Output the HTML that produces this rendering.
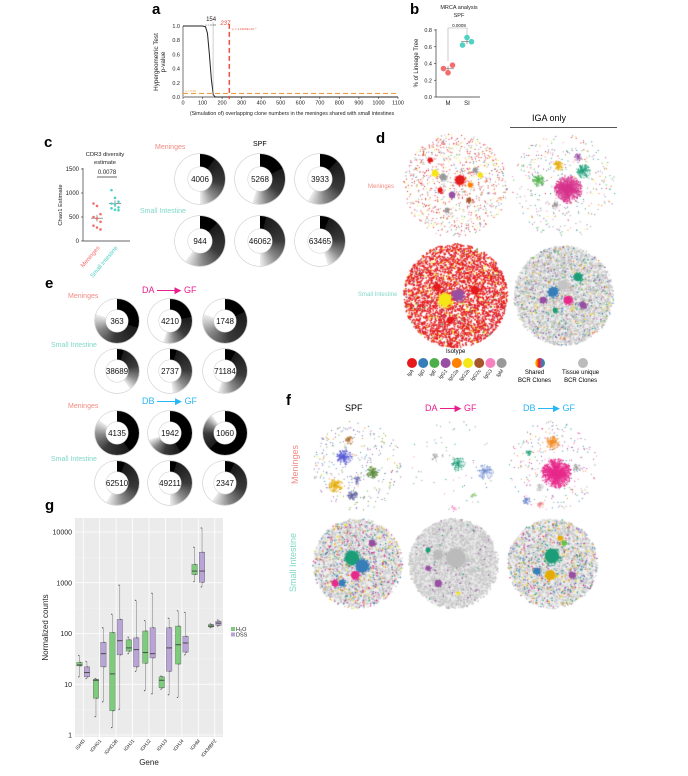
<!DOCTYPE html>
<html><head><meta charset="utf-8">
<style>
body{margin:0;background:#fff;}
#root{position:relative;width:688px;height:776px;overflow:hidden;font-family:"Liberation Sans",sans-serif;}
.t{position:absolute;white-space:nowrap;line-height:1;}
.pl{font-weight:bold;font-size:15px;color:#000;}
.dn{position:absolute;border-radius:50%;}
.dn .in{position:absolute;border-radius:50%;background:#fff;display:flex;align-items:center;justify-content:center;font-size:8px;color:#111;}
svg,canvas{position:absolute;left:0;top:0;}
</style></head>
<body>
<div id="root">
<canvas id="net" width="688" height="776"></canvas>
<svg id="sv" width="688" height="776"></svg>

<div class="t pl" style="left:152px;top:2px">a</div>
<div class="t pl" style="left:410px;top:2px">b</div>
<div class="t pl" style="left:44px;top:135px">c</div>
<div class="t pl" style="left:376px;top:131px">d</div>
<div class="t pl" style="left:45px;top:276px">e</div>
<div class="t pl" style="left:286px;top:393px">f</div>
<div class="t pl" style="left:45px;top:498px">g</div>

<div class="t" style="left:532px;top:114px;font-size:9px">IGA only</div>
<div style="position:absolute;left:510px;top:127px;width:107px;height:1px;background:#555"></div>

<div class="t" style="left:155px;top:144px;font-size:7px;color:#f28b82">Meninges</div>
<div class="t" style="left:253px;top:141px;font-size:7px">SPF</div>
<div class="t" style="left:140px;top:208px;font-size:7px;color:#7fd8c8">Small Intestine</div>

<div class="t" style="left:368px;top:184px;font-size:6px;color:#f28b82">Meninges</div>
<div class="t" style="left:358px;top:292px;font-size:6px;color:#7fd8c8">Small Intestine</div>

<div class="t" style="left:142px;top:286px;font-size:9px;color:#e91e8c">DA <span style="display:inline-block;width:18px;height:1px;background:#e91e8c;vertical-align:middle"></span>&#9654; GF</div>
<div class="t" style="left:68px;top:293px;font-size:7px;color:#f28b82">Meninges</div>
<div class="t" style="left:51px;top:342px;font-size:7px;color:#7fd8c8">Small Intestine</div>
<div class="t" style="left:142px;top:397px;font-size:9px;color:#29b6f6">DB <span style="display:inline-block;width:18px;height:1px;background:#29b6f6;vertical-align:middle"></span>&#9654; GF</div>
<div class="t" style="left:68px;top:403px;font-size:7px;color:#f28b82">Meninges</div>
<div class="t" style="left:51px;top:456px;font-size:7px;color:#7fd8c8">Small Intestine</div>

<div class="t" style="left:345px;top:404px;font-size:9px">SPF</div>
<div class="t" style="left:425px;top:404px;font-size:9px;color:#e91e8c">DA <span style="display:inline-block;width:15px;height:1px;background:#e91e8c;vertical-align:middle"></span>&#9654; GF</div>
<div class="t" style="left:523px;top:404px;font-size:9px;color:#29b6f6">DB <span style="display:inline-block;width:15px;height:1px;background:#29b6f6;vertical-align:middle"></span>&#9654; GF</div>
<div class="t" style="left:276px;top:460px;font-size:9px;color:#f28b82;transform:rotate(-90deg)">Meninges</div>
<div class="t" style="left:264px;top:558px;font-size:9px;color:#7fd8c8;transform:rotate(-90deg)">Small Intestine</div>

<div class="t" style="left:446px;top:349px;font-size:6px">Isotype</div>
<div class="t" style="left:518px;top:370px;font-size:6px;text-align:center;line-height:1.3">Shared<br>BCR Clones</div>
<div class="t" style="left:562px;top:370px;font-size:6px;text-align:center;line-height:1.3">Tissue unique<br>BCR Clones</div>
</div>

<script>
// ---------- Panel a data ----------
const aXTicks=[0,100,200,300,400,500,600,700,800,900,1000,1100];
const aYTicks=[0,0.2,0.4,0.6,0.8,1.0];
const aCurveX=[0,100,115,125,135,145,155,165,200,1100];
const aCurveY=[1,1,0.99,0.9,0.6,0.25,0.03,0,0,0];
const aThreshold=154, aSig=237, aAlpha=0.05;
// ---------- Panel b data ----------
const bGroups=["M","SI"];
const bM=[0.34,0.29,0.38];
const bSI=[0.62,0.71,0.66];
const bYTicks=[0,0.2,0.4,0.6,0.8];
// ---------- Panel c data ----------
const cGroups=["Meninges","Small Intestine"];
const cMen=[780,730,560,500,470,400,320,280,240];
const cSI=[1060,900,820,780,760,700,680,650,640];
const cYTicks=[0,500,1000,1500];
// ---------- Donuts ----------
const donutLabels=[4006,5268,3933,944,46062,63465,363,4210,1748,38689,2737,71184,4135,1942,1060,62510,49211,2347];
const donutBlack=[10,18,12,12,4,6,30,22,18,5,5,8,40,42,62,6,5,7];
const donutGray=[50,55,58,60,50,45,80,55,80,40,48,55,85,70,90,58,50,60];
// ---------- Panel g data ----------
const gGenes=["IGHD","IGHG1","IGHG2B","IGHJ1","IGHJ2","IGHJ3","IGHJ4","IGHM","IGKMBP2"];
const gH2OMed=[24,12,16,52,42,12,60,1700,140];
const gH2OQ1=[23,5.3,3,45,26,8.5,25,1450,135];
const gH2OQ3=[27,12.5,105,75,112,14,140,2300,150];
const gH2OMin=[14,2.3,1.4,40,7.5,8,5.5,1050,130];
const gH2OMax=[37,13,240,85,180,14.5,280,5000,155];
const gDSSMed=[17,40,72,48,40,52,65,1700,160];
const gDSSQ1=[14,22,38,22,33,18,43,1020,145];
const gDSSQ3=[22,67,190,82,130,130,88,4000,175];
const gDSSMin=[13,4.5,3.2,18,6.5,6.2,38,830,140];
const gDSSMax=[28,130,900,450,620,200,260,12000,185];
const gYTicks=[1,10,100,1000,10000];

const NS="http://www.w3.org/2000/svg";
const sv=document.getElementById('sv');
function el(tag,attrs,parent){const e=document.createElementNS(NS,tag);for(const k in attrs)e.setAttribute(k,attrs[k]);(parent||sv).appendChild(e);return e;}
function txt(x,y,s,size,attrs,parent){const t=el('text',Object.assign({x:x,y:y,'font-size':size,'font-family':'Liberation Sans, sans-serif',fill:'#222'},attrs||{}),parent);t.textContent=s;return t;}

// ===== Panel a =====
(function(){
 const g=el('g',{});
 
 const X=v=>183+(v/1100)*215, Y=v=>97-(v/1)*71;
 el('line',{x1:183,y1:97,x2:398,y2:97,stroke:'#333','stroke-width':0.8},g);
 el('line',{x1:183,y1:Y(1),x2:183,y2:97,stroke:'#bbb','stroke-width':2},g);
 aXTicks.forEach(v=>{el('line',{x1:X(v),y1:97,x2:X(v),y2:99,stroke:'#333','stroke-width':0.6},g);const t=txt(X(v),104.5,v,5.5,{'text-anchor':'middle'},g);});
 aYTicks.forEach(v=>{const t=txt(180,Y(v)+2,v.toFixed(1),5.5,{'text-anchor':'end'},g);});
 let d=aCurveX.map((v,i)=>(i?'L':'M')+X(v)+','+Y(aCurveY[i])).join('');
 const c=el('path',{d:d,fill:'none',stroke:'#222','stroke-width':1},g);
 const tl=el('line',{x1:X(aThreshold),y1:Y(1.05),x2:X(aThreshold),y2:97,stroke:'#888','stroke-width':0.8,'stroke-dasharray':'1,1'},g);
 const rl=el('line',{x1:X(aSig),y1:Y(1.03),x2:X(aSig),y2:99,stroke:'#e8533f','stroke-width':1.5,'stroke-dasharray':'5,3'},g);
 const al=el('line',{x1:183,y1:Y(aAlpha),x2:398,y2:Y(aAlpha),stroke:'#f0a040','stroke-width':1.2,'stroke-dasharray':'5,3'},g);
 txt(X(aThreshold)-2,21,'154',6,{'text-anchor':'middle'},g);
 txt(X(aThreshold)-8,26,'p = 0.05',3,{fill:'#666'},g);
 txt(X(aSig)-4,25,'237',6,{fill:'#e8533f','font-style':'italic','text-anchor':'middle'},g);
 txt(X(aSig)+3,30,'p = 4.1903E×10⁻⁵',3,{fill:'#e8533f'},g);
 txt(185,Y(aAlpha)-1.5,'p = 0.05',3,{fill:'#f0a040'},g);
 txt(292,115,'(Simulation of) overlapping clone numbers in the meninges shared with small intestines',5.3,{'text-anchor':'middle'},g);
 txt(0,0,'Hypergeometric Test',6.3,{transform:'translate(158,62) rotate(-90)','text-anchor':'middle'},g);
 txt(0,0,'p-value',6.3,{transform:'translate(165,62) rotate(-90)','text-anchor':'middle'},g);
})();

// ===== Panel b =====
(function(){
 const g=el('g',{});
 
 const Y=v=>97-(v/0.8)*67, X=i=>448+i*19;
 el('line',{x1:436,y1:29,x2:436,y2:97,stroke:'#333','stroke-width':0.7},g);
 el('line',{x1:436,y1:97,x2:480,y2:97,stroke:'#333','stroke-width':0.7},g);
 bYTicks.forEach(v=>{el('line',{x1:434,y1:Y(v),x2:436,y2:Y(v),stroke:'#333','stroke-width':0.6},g);txt(432,Y(v)+2,v.toFixed(1),5.5,{'text-anchor':'end'},g);});
 bGroups.forEach((s,i)=>txt(X(i),105,s,6,{'text-anchor':'middle'},g));
 txt(459,9,'MRCA analysis',5.5,{'text-anchor':'middle'},g);txt(459,17,'SPF',5.5,{'text-anchor':'middle'},g);
 txt(0,0,'% of Lineage Tree',6,{transform:'translate(418,63) rotate(-90)','text-anchor':'middle'},g);
 el('path',{d:`M${X(0)},${Y(0.43)}V28H${X(1)}V${Y(0.73)}`,fill:'none',stroke:'#aaa','stroke-width':0.6},g);
 txt(459,27,'0.0009',4.5,{'text-anchor':'middle'},g);
 [[bM,'#f36d6d',-1],[bSI,'#4fd1c5',1]].forEach(([arr,col],gi)=>{
  const m=arr.reduce((a,b)=>a+b)/arr.length;
  el('line',{x1:X(gi)-6,y1:Y(m),x2:X(gi)+6,y2:Y(m),stroke:'#666','stroke-width':0.6},g);
  el('line',{x1:X(gi),y1:Y(m-0.03),x2:X(gi),y2:Y(m+0.03),stroke:'#666','stroke-width':0.6},g);
  arr.forEach((v,j)=>{const c=el('circle',{cx:X(gi)+(j-1)*4.5,cy:Y(v),r:2.8,fill:col},g);});
 });
})();

// ===== Panel c scatter =====
(function(){
 const g=el('g',{});
 
 const Y=v=>241-(v/1500)*72, X=i=>97+i*18;
 el('line',{x1:83,y1:168,x2:83,y2:241,stroke:'#333','stroke-width':0.7},g);
 el('line',{x1:83,y1:241,x2:130,y2:241,stroke:'#333','stroke-width':0.7},g);
 cYTicks.forEach(v=>{el('line',{x1:81,y1:Y(v),x2:83,y2:Y(v),stroke:'#333','stroke-width':0.6},g);txt(79,Y(v)+2,v,6,{'text-anchor':'end'},g);});
 txt(105,156,'CDR3 diversity',5.8,{'text-anchor':'middle'},g);txt(105,164,'estimate',5.8,{'text-anchor':'middle'},g);
 txt(107,174,'0.0078',6,{'text-anchor':'middle'},g);
 el('line',{x1:97,y1:177,x2:117,y2:177,stroke:'#333','stroke-width':0.7},g);
 txt(0,0,'Chao1 Estimate',5.8,{transform:'translate(62,205) rotate(-90)','text-anchor':'middle'},g);
 txt(0,0,'Meninges',6,{transform:'translate(100,248) rotate(-50)','text-anchor':'end',fill:'#f36d6d'},g);
 txt(0,0,'Small Intestine',6,{transform:'translate(118,248) rotate(-50)','text-anchor':'end',fill:'#4fd1c5'},g);
 [[cMen,'#f36d6d'],[cSI,'#4fd1c5']].forEach(([arr,col],gi)=>{
  const m=arr.reduce((a,b)=>a+b)/arr.length;
  el('line',{x1:X(gi)-6,y1:Y(m),x2:X(gi)+6,y2:Y(m),stroke:'#555','stroke-width':0.6},g);
  el('line',{x1:X(gi),y1:Y(m-70),x2:X(gi),y2:Y(m+70),stroke:'#555','stroke-width':0.6},g);
  arr.forEach((v,j)=>{const c=el('circle',{cx:X(gi)+((j%3)-1)*3.5,cy:Y(v),r:1.3,fill:col},g);});
 });
})();

// ===== Donuts =====
(function(){
 const root=document.getElementById('root');
 const pos=[];
 [[179,25,12],[241,25,12]].forEach(([y,r,ri])=>[200,260,320].forEach(x=>pos.push([x,y,r,ri])));
 [321,371,433,483].forEach(y=>[117,170,225].forEach(x=>pos.push([x,y,22,11])));
 donutLabels.forEach((lab,i)=>{
  const [x,y,r,ri]=pos[i];const b=donutBlack[i],gr=donutGray[i];
  const d=document.createElement('div');d.className='dn';
  
  
  const m1=b+(gr-b)*0.45,m2=b+(gr-b)*0.75;
  d.style.cssText=`left:${x-r}px;top:${y-r}px;width:${2*r}px;height:${2*r}px;background:conic-gradient(#000 0 ${b}%,#1a1a1a ${b}%,#3a3a3a ${m1}%,#8a8a8a ${m2}%,#eeeeee ${gr}%,#fff ${gr}% 100%);box-shadow:0 0 0 0.7px #cfcfcf;`;
  const inn=document.createElement('div');inn.className='in';
  inn.style.cssText=`left:${r-ri}px;top:${r-ri}px;width:${2*ri}px;height:${2*ri}px;box-shadow:0 0 0 0.5px #ccc;`;
  inn.textContent=lab;d.appendChild(inn);root.appendChild(d);
 });
})();

// ===== Panel g =====
(function(){
 const g=el('g',{});
 
 const L=75,R=223,T=518,B=737;
 const Y=v=>735-Math.log10(v)*50.75;
 const band=(R-L)/gGenes.length, X=i=>L+band*(i+0.5);
 el('rect',{x:L,y:T,width:R-L,height:B-T,fill:'#ebebeb'},g);
 gYTicks.forEach(v=>{el('line',{x1:L,y1:Y(v),x2:R,y2:Y(v),stroke:'#fff','stroke-width':0.8},g);
  if(v<10000) el('line',{x1:L,y1:Y(v*3.16),x2:R,y2:Y(v*3.16),stroke:'#f5f5f5','stroke-width':0.4},g);
  txt(L-3,Y(v)+2.5,v,7,{'text-anchor':'end'},g);});
 gGenes.forEach((s,i)=>{el('line',{x1:X(i),y1:T,x2:X(i),y2:B,stroke:'#fff','stroke-width':0.8},g);
  txt(0,0,s,4.8,{transform:`translate(${X(i)+2},${B+4}) rotate(-50)`,'text-anchor':'end'},g);});
 txt((L+R)/2,765,'Gene',8,{'text-anchor':'middle'},g);
 txt(0,0,'Normalized counts',8,{transform:`translate(${L-27},${(T+B)/2}) rotate(-90)`,'text-anchor':'middle'},g);
 const bw=5.5;
 function box(i,off,med,q1,q3,mn,mx,col,name){
  const cx=X(i)+off;
  el('line',{x1:cx,y1:Y(mx),x2:cx,y2:Y(mn),stroke:'#777','stroke-width':0.5},g);
  const r=el('rect',{x:cx-bw/2,y:Y(q3),width:bw,height:Math.max(0.5,Y(q1)-Y(q3)),fill:col,stroke:'#666','stroke-width':0.4},g);
  
  el('line',{x1:cx-bw/2,y1:Y(med),x2:cx+bw/2,y2:Y(med),stroke:'#333','stroke-width':0.8},g);
  [mn,q1,med,q3,mx].forEach((v,k)=>el('circle',{cx:cx+((k%2)-0.5)*1.6,cy:Y(v),r:0.6,fill:'#555'},g));
 }
 gGenes.forEach((s,i)=>{
  box(i,-3.7,gH2OMed[i],gH2OQ1[i],gH2OQ3[i],gH2OMin[i],gH2OMax[i],'#7ccc7c','box-h2o');
  box(i,3.7,gDSSMed[i],gDSSQ1[i],gDSSQ3[i],gDSSMin[i],gDSSMax[i],'#b8a4d6','box-dss');
 });
 el('rect',{x:231,y:627,width:4,height:4,fill:'#7ccc7c'},g);txt(236,631,'H₂O',5.5,{},g);
 el('rect',{x:231,y:632.5,width:4,height:4,fill:'#b8a4d6'},g);txt(236,636.5,'DSS',5.5,{},g);
})();

// ===== Isotype legend =====
const isoNames=["IgA","IgD","IgE","IgG1","IgG2a","IgG2b","IgG2c","IgG3","IgM"];
const isoColors=["#e41a1c","#377eb8","#4daf4a","#984ea3","#ff7f00","#f5e616","#a65628","#f781bf","#999999"];
(function(){
 const g=el('g',{});
 
 isoNames.forEach((n,i)=>{const x=412+i*11.2;
  const c=el('circle',{cx:x,cy:363,r:5,fill:isoColors[i]},g);
  txt(0,0,n,5,{transform:`translate(${x+2},${371}) rotate(-50)`,'text-anchor':'end'},g);});
 const defs=el('defs',{},g);const lg=el('linearGradient',{id:'sh'},defs);
 ['#f5e616','#ff7f00','#e41a1c','#984ea3','#377eb8','#1b9e77'].forEach((c,i)=>el('stop',{offset:(i/5*100)+'%','stop-color':c},lg));
 el('circle',{cx:540,cy:363,r:5,fill:'url(#sh)'},g);
 el('circle',{cx:583,cy:363,r:5,fill:'#bbb'},g);
})();

// ===== Networks (canvas) =====
let seed=7;function rnd(){seed=(seed*16807)%2147483647;return (seed-1)/2147483646;}
const ctx=document.getElementById('net').getContext('2d');
function pick(cols,w){let s=w.reduce((a,b)=>a+b),r=rnd()*s;for(let i=0;i<cols.length;i++){r-=w[i];if(r<=0)return cols[i];}return cols[0];}
function net(cx,cy,R,n,cols,w,sz,clusters,bg){
 if(bg){ctx.fillStyle=bg;ctx.beginPath();ctx.arc(cx,cy,R*0.97,0,7);ctx.fill();}
 for(let i=0;i<n;i++){const a=rnd()*6.283,r=R*Math.sqrt(rnd());ctx.fillStyle=pick(cols,w);ctx.fillRect(cx+r*Math.cos(a),cy+r*Math.sin(a),sz,sz);}
 (clusters||[]).forEach(([dx,dy,cr,col,m,star])=>{
  ctx.fillStyle=col;ctx.strokeStyle=col;ctx.lineWidth=0.3;
  for(let i=0;i<m;i++){const a=rnd()*6.283,r=cr*Math.sqrt(rnd());const x=cx+dx+r*Math.cos(a),y=cy+dy+r*Math.sin(a);
   if(star){ctx.beginPath();ctx.moveTo(cx+dx,cy+dy);ctx.lineTo(x,y);ctx.stroke();}
   ctx.fillRect(x,y,1,1);}
  if(!star){ctx.beginPath();ctx.arc(cx+dx,cy+dy,cr*0.8,0,7);ctx.fill();}
 });
}
const I=isoColors, G='#c4c4c4';
// d top-left meninges
net(455,185,52,900,[I[0],I[8],I[5],I[1],I[2],I[3],I[6],I[7]],[10,6,3,1,1,1,0.5,1],1,
 [[5,-5,6,I[0],60],[-20,-12,4,I[5],30],[-12,-8,4,I[8],30],[15,0,3,I[4],20],[-3,10,4,I[3],20],[14,15,3,I[6],20],[-8,25,3,I[8],20],[25,-10,3,I[5],20],[-25,-25,3,I[0],20],[-15,5,3,I[0],20],[20,-15,3,I[8],20]]);
// d top-right IgA only
net(563,185,52,350,[I[0],I[1],I[2],I[3],I[4],I[5],I[7],I[8],'#1b9e77'],[1,1,2,3,1,1,2,3,2],1,
 [[5,4,14,'#d6338a',400,1],[-25,-5,6,'#4daf4a',60,1],[20,-14,7,'#1b9e77',70,1],[-5,-20,5,'#e6ab02',50,1],[15,-28,4,'#984ea3',30,1],[-8,20,4,'#888',20,1]]);
// d bottom-left SI
net(455,295,52,4000,[I[0],I[0],I[5],I[3],I[8],I[2]],[20,10,2,1,0.5,0.3],1.4,
 [[-10,5,8,I[5],150],[3,0,7,I[3],100],[-18,-8,4,I[0],40],[20,-5,5,I[0],40],[-5,25,4,I[0],40]]);
// d bottom-right SI IGA only
net(563,295,50,3000,[G,G,I[3],I[1],I[2],'#1b9e77',I[5],I[4],I[7]],[20,10,2,1.5,1,1,1,0.8,0.5],1.3,
 [[-10,-3,6,I[1],90],[5,5,5,'#e7298a',60],[15,-18,5,'#1b9e77',70],[-20,5,4,I[3],40],[0,-10,6,G,60],[20,10,4,I[3],30],[-8,15,3,'#1b9e77',20]],'#eee');
// f top row
net(357,465,45,300,[I[3],I[1],'#7570b3',I[8],I[5],I[4],'#66a61e',I[2]],[2,2,3,2,1,1,1,1],1,
 [[-13,-8,8,'#5a5ad6',90,1],[15,7,6,'#5a8a3a',70,1],[-22,20,7,'#e6ab02',70,1],[-5,30,5,'#6060a0',50,1],[-8,-25,4,'#b07030',30,1],[0,15,4,'#7570b3',30,1]]);
net(453,465,45,60,[I[1],I[2],'#1b9e77',I[8],I[7]],[1,1,1,2,1],1,
 [[5,-2,7,'#1b9e77',50,1],[32,6,8,'#6d8ccf',50,1],[-18,-8,4,'#999',15,1],[20,30,3,'#7bbf5a',10,1],[0,43,3,I[7],10,1]]);
net(552,465,45,260,[I[3],I[1],I[4],I[8],I[7],'#1b9e77','#e7298a'],[2,2,1,3,2,1,1],1,
 [[4,8,15,'#e7298a',500,1],[0,-23,7,'#f08a24',80,1],[-24,-13,3,'#1b9e77',20,1],[-26,35,4,'#6d8ccf',30,1],[-12,40,3,'#f08080',20,1],[25,2,4,'#999',20,1],[-12,22,4,'#bbb',20,1]]);
// f bottom row
net(357,563,45,2200,[G,G,I[3],I[1],'#e7298a',I[5],'#1b9e77',I[4]],[15,8,2,2,1.5,1.5,1,1],1.3,
 [[-5,-5,9,'#1b9e77',110],[5,3,8,I[1],110],[-2,12,5,'#e7298a',50],[-15,20,4,I[1],30],[-22,20,4,'#e7298a',30],[15,-20,4,I[3],30]],'#eee');
net(453,563,45,2500,[G,G,'#ddd',I[3],'#1b9e77'],[15,10,8,1,0.3],1.4,
 [[3,-5,12,'#bbb',200],[-15,-8,6,'#bbb',80],[-15,20,4,I[3],50],[-25,5,3,I[3],30],[5,30,2,I[5],10],[-25,-13,3,'#1b9e77',15]],'#e8e8e8');
net(552,563,45,2200,[G,G,I[3],I[1],'#1b9e77',I[5],I[4],'#e7298a'],[15,8,2,2,1.5,1.5,1,0.8],1.3,
 [[0,-7,9,'#1b9e77',110],[-2,12,6,'#e6ab02',70],[-15,8,4,I[1],40],[20,12,4,I[3],40],[12,-20,3,'#66c24a',30],[8,-25,3,'#e6ab02',20]],'#eee');
</script>
</body></html>
